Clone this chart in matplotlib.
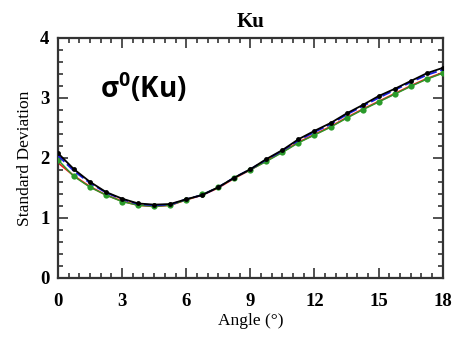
import numpy as np
import matplotlib
matplotlib.use("Agg")
import matplotlib.pyplot as plt
from matplotlib.ticker import MultipleLocator

matplotlib.rcParams['mathtext.fontset'] = 'custom'
matplotlib.rcParams['mathtext.bf'] = 'Open Sans:bold'
matplotlib.rcParams['mathtext.rm'] = 'Open Sans:bold'

# incidence angle (deg), one point every 0.75 deg
angle = [0, 0.75, 1.5, 2.25, 3, 3.75, 4.5, 5.25, 6, 6.75, 7.5, 8.25, 9,
         9.75, 10.5, 11.25, 12, 12.75, 13.5, 14.25, 15, 15.75, 16.5, 17.25, 18]

std_black = [2.08, 1.81, 1.60, 1.43, 1.32, 1.24, 1.22, 1.23, 1.31, 1.38, 1.51,
             1.67, 1.81, 1.98, 2.13, 2.31, 2.45, 2.58, 2.74, 2.88, 3.03, 3.15,
             3.28, 3.41, 3.50]
std_blue = [2.04, 1.78, 1.58, 1.42, 1.31, 1.23, 1.21, 1.22, 1.31, 1.38, 1.51,
            1.67, 1.81, 1.97, 2.12, 2.29, 2.43, 2.56, 2.72, 2.86, 3.00, 3.13,
            3.26, 3.38, 3.47]
std_red = [1.92, 1.70, 1.52, 1.38, 1.28, 1.21, 1.19, 1.21, 1.30, 1.38, 1.50,
           1.66, 1.80, 1.95, 2.10, 2.26, 2.39, 2.52, 2.67, 2.81, 2.94, 3.07,
           3.20, 3.32, 3.42]
std_green = [1.97, 1.69, 1.51, 1.38, 1.27, 1.21, 1.19, 1.21, 1.30, 1.39, 1.51,
             1.67, 1.80, 1.94, 2.09, 2.25, 2.38, 2.51, 2.66, 2.80, 2.93, 3.06,
             3.19, 3.31, 3.41]

xticks = [0, 3, 6, 9, 12, 15, 18]
yticks = [0, 1, 2, 3, 4]

serif = "Liberation Serif"

fig = plt.figure(figsize=(4.56, 3.38), dpi=100)
ax = fig.add_axes([0.127, 0.178, 0.844, 0.710])

ax.plot(angle, std_red, color="#e8231c", lw=1.3, zorder=2)
ax.plot(angle, std_green, color="#2a9a2a", lw=1.0, marker="o",
        markersize=4.5, markeredgewidth=0, zorder=3)
ax.plot(angle, std_blue, color="#1a1adf", lw=1.3, linestyle=(0, (5, 2)),
        zorder=4)
ax.plot(angle, std_black, color="black", lw=1.3, marker="o",
        markersize=3.5, markeredgewidth=0, zorder=5)

ax.set_xlim(0, 18)
ax.set_ylim(0, 4)
ax.set_xticks(xticks)
ax.set_yticks(yticks)
ax.xaxis.set_minor_locator(MultipleLocator(0.5))
ax.yaxis.set_minor_locator(MultipleLocator(0.2))
ax.tick_params(which="both", direction="in", top=True, right=True,
               color="#333333", width=1.2)
ax.tick_params(which="major", length=7)
ax.tick_params(which="minor", length=3.5)
ax.tick_params(axis="x", which="major", pad=11)
ax.tick_params(axis="y", which="major", pad=6)
for lab in ax.get_xticklabels() + ax.get_yticklabels():
    lab.set_fontfamily(serif)
    lab.set_fontweight("bold")
    lab.set_fontsize(13.5)
for sp in ax.spines.values():
    sp.set_linewidth(1.6)
    sp.set_color("#333333")

ax.set_xlabel("Angle (°)", family=serif, fontsize=12.5, labelpad=2)
ax.set_ylabel("Standard Deviation", family=serif, fontsize=12.5, labelpad=5)
ax.set_title("Ku", family=serif, fontsize=15, fontweight="bold", pad=8)

ax.text(0.109, 0.79, r"$\mathbf{\sigma}^\mathbf{0}$(Ku)", transform=ax.transAxes,
        family="Open Sans", fontweight="bold", fontsize=20, va="center",
        ha="left")

fig.savefig("out.png", dpi=100)
